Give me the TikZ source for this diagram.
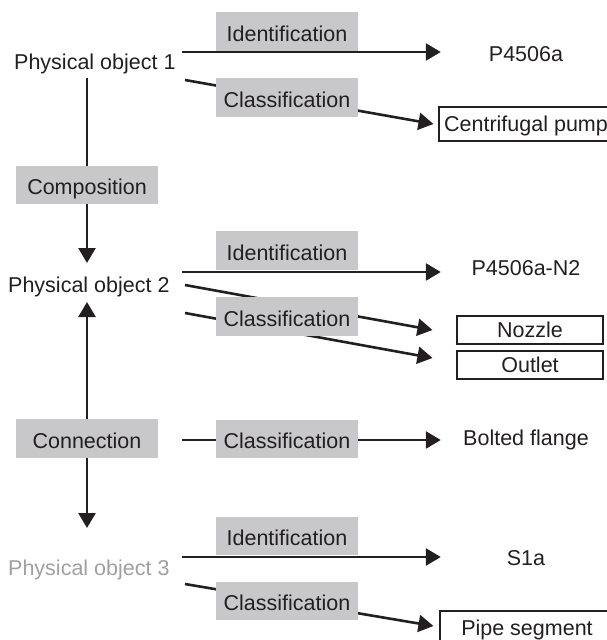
\documentclass[tikz,border=0pt]{standalone}
\usepackage{fontspec}
\setmainfont{Liberation Sans}
\usetikzlibrary{arrows.meta,backgrounds}
\definecolor{ink}{RGB}{35,31,32}
\definecolor{relfill}{RGB}{200,200,202}
\definecolor{faded}{RGB}{160,160,162}
\tikzset{
  lbl/.style={font=\fontsize{21.5}{25}\selectfont, text=ink, inner sep=0pt},
  relbox/.style={lbl, fill=relfill, minimum width=142pt, minimum height=38.5pt,
                 text height=19.4pt, text depth=0pt},
  objtext/.style={lbl, anchor=base west},
  valtext/.style={lbl, minimum width=170pt, text height=15.5pt, text depth=0pt},
  valbox/.style={lbl, draw=ink, line width=1.1pt, fill=white, inner xsep=5pt,
                 minimum height=34pt, text height=15.5pt, text depth=0pt},
  link/.style={draw=ink, line width=2.6pt},
  arr/.style={link, -{Triangle[length=15pt,width=17pt]}},
}
\begin{document}
\begin{tikzpicture}[x=1pt,y=-1pt]
\useasboundingbox (0,0) rectangle (607,640);

% physical objects
\node[objtext] (po1) at (14,69) {Physical object 1};
\node[objtext] (po2) at (8,292) {Physical object 2};
\node[objtext, text=faded] (po3) at (8,575) {Physical object 3};

% relations
\node[relbox] (id1) at (287,31.5) {Identification};
\node[relbox] (cl1) at (287,97.5) {Classification};
\node[relbox] (comp) at (87,185) {Composition};
\node[relbox] (id2) at (287,250.5) {Identification};
\node[relbox] (cl2) at (287,316.5) {Classification};
\node[relbox] (conn) at (87,438.5) {Connection};
\node[relbox] (cl3) at (287,439) {Classification};
\node[relbox] (id3) at (287,536) {Identification};
\node[relbox] (cl4) at (287,601) {Classification};

% identifiers and classes
\node[valtext] (v1) at (526,53.5) {P4506a};
\node[valbox, minimum width=174pt] (cp) at (526,124) {Centrifugal pump};
\node[valtext] (v2) at (526,268) {P4506a-N2};
\node[valbox, minimum width=146pt, minimum height=28pt] (nz) at (530,330) {Nozzle};
\node[valbox, minimum width=146pt, minimum height=28pt] (ol) at (530,365) {Outlet};
\node[valtext] (v3) at (526,437.5) {Bolted flange};
\node[valtext] (v4) at (526,558) {S1a};
\node[valbox, minimum width=174pt] (ps) at (527,628) {Pipe segment};

% connector end points next to the objects
\coordinate (po1-i) at (182,52);
\coordinate (po1-c) at (185,80);
\coordinate (po1-s) at (87,78);
\coordinate (po2-n) at (87,263);
\coordinate (po2-i) at (182,272);
\coordinate (po2-c1) at (185,285);
\coordinate (po2-c2) at (185,313);
\coordinate (po2-s) at (87,302);
\coordinate (conn-e) at (182,440);
\coordinate (po3-n) at (87,528);
\coordinate (po3-i) at (182,557);
\coordinate (po3-c) at (185,584);

\begin{pgfonlayer}{background}
  \draw[arr] (po1-i) -- (po1-i -| v1.west);
  \draw[arr] (po1-c) -- ([xshift=-5pt]cp.west);
  \draw[link] (po1-s) -- (comp.north);
  \draw[arr] (comp.south) -- (po2-n);
  \draw[arr] (po2-i) -- (po2-i -| v2.west);
  \draw[arr] (po2-c1) -- ([xshift=-24pt]nz.west);
  \draw[arr] (po2-c2) -- ([xshift=-24pt,yshift=7pt]ol.west);
  \draw[arr] (conn.north) -- (po2-s);
  \draw[arr] (conn-e) -- (conn-e -| v3.west);
  \draw[arr] (conn.south) -- (po3-n);
  \draw[arr] (po3-i) -- (po3-i -| v4.west);
  \draw[arr] (po3-c) -- ([xshift=-6pt,yshift=2pt]ps.west);
\end{pgfonlayer}
\end{tikzpicture}
\end{document}
